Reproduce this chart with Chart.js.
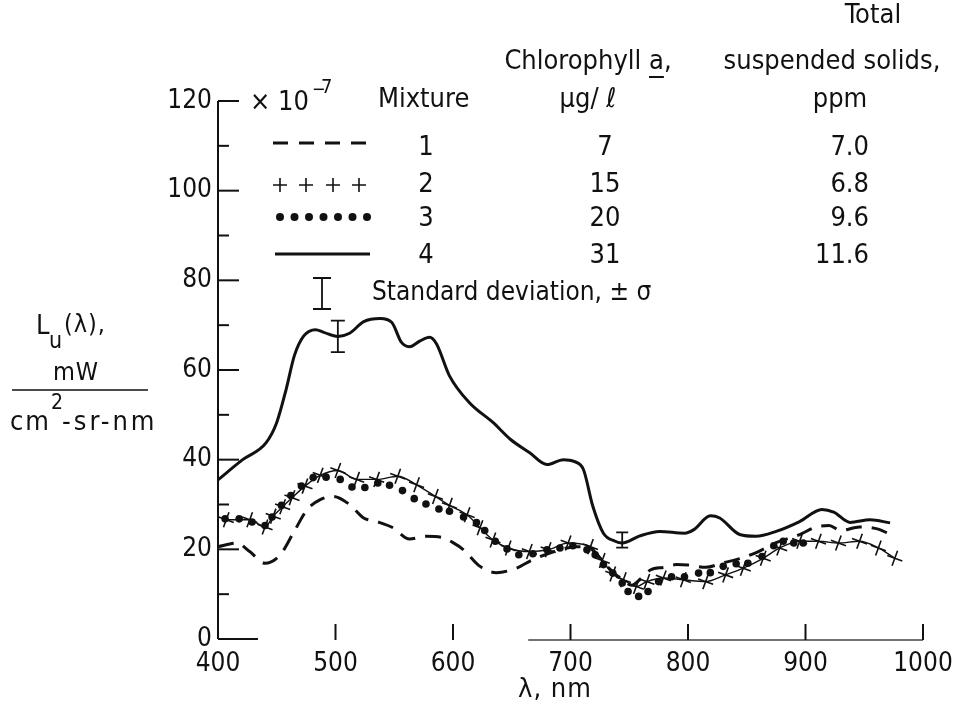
<!DOCTYPE html>
<html>
<head>
<meta charset="utf-8">
<script src="https://cdn.jsdelivr.net/npm/chart.js@4.4.1/dist/chart.umd.min.js"></script>
<style>
html,body{margin:0;padding:0;background:#fff;}
canvas{display:block;}
</style>
</head>
<body>
<canvas id="c" width="956" height="714"></canvas>
<script>
// ---- data ----
const xTicks = [400, 500, 600, 700, 800, 900, 1000];
const yTicks = [0, 20, 40, 60, 80, 100, 120];

// Mixture 1 (dashed)
const wl1 = [400, 416, 427, 440, 453, 464, 476, 487, 498, 512, 524, 535, 549, 563, 577, 590, 600, 609, 623, 637, 654, 668, 691, 705, 714, 722, 732, 745, 752, 760, 768, 780, 790, 800, 815, 830, 845, 860, 875, 895, 909, 920, 930, 946, 962, 970];
const lu1 = [20.6, 21.4, 19.5, 16.9, 18.8, 23.6, 28.9, 31.1, 31.8, 30.0, 27.0, 26.2, 24.8, 22.3, 22.9, 22.7, 21.5, 19.9, 16.2, 14.8, 15.8, 17.7, 19.9, 20.6, 20.6, 19.0, 16.0, 13.0, 12.0, 13.5, 15.4, 16.0, 16.6, 16.5, 16.0, 17.0, 18.0, 19.5, 21.5, 23.3, 25.0, 25.3, 24.2, 25.0, 24.5, 23.6];

// Mixture 2 (plus)
const wl2 = [407, 427, 440, 447, 455, 463, 474, 487, 502, 518, 535, 553, 569, 585, 597, 612, 623, 634, 647, 665, 681, 698, 717, 727, 736, 745, 756, 765, 779, 796, 815, 832, 847, 864, 878, 895, 911, 928, 946, 962, 976];
const lu2 = [26.6, 26.6, 25.0, 27.4, 29.5, 31.5, 34.1, 36.5, 37.6, 35.6, 35.6, 36.3, 34.4, 31.8, 29.8, 27.7, 24.8, 22.1, 20.3, 19.5, 19.9, 21.4, 20.6, 17.5, 14.5, 13.2, 11.7, 12.8, 13.6, 13.2, 12.8, 14.3, 15.8, 18.0, 20.3, 21.8, 21.8, 21.4, 21.8, 20.3, 18.0];

// Mixture 3 (dots)
const wl3 = [406, 418, 429, 440, 446, 454, 462, 471, 481, 492, 504, 514, 525, 536, 546, 557, 567, 577, 588, 597, 609, 620, 627, 636, 646, 656, 668, 680, 691, 702, 714, 721, 728, 736, 744, 749, 758, 766, 775, 786, 797, 809, 819, 830, 841, 851, 863, 873, 881, 890, 898];
const lu3 = [26.8, 26.8, 26.1, 25.3, 27.2, 29.8, 32.0, 34.1, 36.0, 36.1, 35.6, 33.9, 33.8, 34.8, 34.3, 33.1, 31.3, 30.1, 29.0, 28.5, 27.2, 26.0, 24.2, 21.8, 20.1, 18.8, 19.0, 19.9, 20.3, 20.8, 19.9, 18.8, 16.6, 14.7, 12.5, 10.6, 9.5, 10.6, 12.8, 13.9, 13.9, 14.7, 14.8, 16.2, 16.8, 16.9, 18.4, 20.8, 21.8, 21.4, 21.4];

// Mixture 4 (solid)
const wl4 = [400, 421, 441, 450, 458, 465, 473, 483, 490, 502, 512, 524, 538, 548, 556, 563, 572, 580, 586, 597, 614, 634, 649, 665, 680, 694, 703, 711, 719, 728, 738, 744, 759, 776, 797, 805, 819, 827, 844, 858, 875, 895, 914, 924, 938, 955, 972];
const lu4 = [35.5, 40.0, 43.8, 48.3, 55.7, 63.2, 67.6, 69.0, 68.4, 67.5, 68.2, 70.8, 71.5, 70.6, 66.2, 65.2, 66.5, 67.3, 65.8, 58.7, 52.7, 48.3, 44.5, 41.6, 38.9, 40.0, 39.6, 37.8, 29.6, 23.6, 21.8, 21.4, 23.0, 24.0, 23.6, 24.4, 27.5, 27.0, 23.3, 22.9, 24.0, 26.2, 28.9, 28.3, 26.0, 26.6, 25.9];

// standard deviation bars
const errWl = [502, 744];
const errLu = [67.5, 22.1];
const errSd = [3.5, 1.7];

// legend table
const mixtures = ['1', '2', '3', '4'];
const chlorophyll = ['7', '15', '20', '31'];
const solids = ['7.0', '6.8', '9.6', '11.6'];

const FAM = "'Liberation Sans Narrow','DejaVu Sans Condensed','Liberation Sans',sans-serif";
const INK = '#111';

function pts(xs, ys) { return xs.map((x, i) => ({x: x, y: ys[i]})); }

function txt(ctx, s, x, y, size, align) {
  ctx.font = size + 'px ' + FAM;
  ctx.textAlign = align || 'left';
  ctx.textBaseline = 'middle';
  ctx.fillText(s, x, y);
  return ctx.measureText(s).width;
}

const decor = {
  id: 'decor',
  afterDatasetsDraw(chart) {
    const ctx = chart.ctx;
    const xs = chart.scales.x, ys = chart.scales.y;
    ctx.save();
    ctx.strokeStyle = INK;
    ctx.fillStyle = INK;
    ctx.lineCap = 'butt';
    const x0 = xs.getPixelForValue(400);
    ctx.lineWidth = 2;
    ctx.beginPath();
    ctx.moveTo(x0, ys.getPixelForValue(0));
    ctx.lineTo(x0, ys.getPixelForValue(120));
    ctx.stroke();
    for (let v = 10; v <= 120; v += 10) {
      const y = ys.getPixelForValue(v);
      const len = (v % 20 === 0) ? 21 : 11;
      ctx.beginPath();
      ctx.moveTo(x0, y);
      ctx.lineTo(x0 + len, y);
      ctx.stroke();
    }
    const yb = ys.getPixelForValue(0);
    ctx.beginPath();
    ctx.moveTo(x0, yb);
    ctx.lineTo(xs.getPixelForValue(434), yb);
    ctx.stroke();
    ctx.strokeStyle = '#444';
    ctx.lineWidth = 1.6;
    ctx.beginPath();
    ctx.moveTo(xs.getPixelForValue(664), yb + 1);
    ctx.lineTo(xs.getPixelForValue(1000), yb + 1);
    ctx.stroke();
    ctx.strokeStyle = INK;
    ctx.lineWidth = 2;
    for (const t of xTicks) {
      if (t === 400) continue;
      const x = xs.getPixelForValue(t);
      ctx.beginPath();
      ctx.moveTo(x, yb + 1);
      ctx.lineTo(x, yb - 15);
      ctx.stroke();
    }
    ctx.lineWidth = 1.8;
    errWl.forEach((w, i) => {
      const x = xs.getPixelForValue(w);
      const yt = ys.getPixelForValue(errLu[i] + errSd[i]);
      const yl = ys.getPixelForValue(errLu[i] - errSd[i]);
      const cw = i === 0 ? 7 : 6;
      ctx.beginPath();
      ctx.moveTo(x, yt); ctx.lineTo(x, yl);
      ctx.moveTo(x - cw, yt); ctx.lineTo(x + cw, yt);
      ctx.moveTo(x - cw, yl); ctx.lineTo(x + cw, yl);
      ctx.stroke();
    });
    ctx.restore();
  },
  afterDraw(chart) {
    const ctx = chart.ctx;
    ctx.save();
    ctx.fillStyle = INK;
    ctx.strokeStyle = INK;
    let w = txt(ctx, '\u00d7 10', 250, 103, 27);
    txt(ctx, '\u2212', 250 + w + 3, 90, 18);
    txt(ctx, '7', 250 + w + 12, 88, 20);
    txt(ctx, 'Mixture', 378, 100, 27);
    ctx.font = '27px ' + FAM;
    const p1 = 'Chlorophyll ', p2 = 'a', p3 = ',';
    const w1 = ctx.measureText(p1).width, w2 = ctx.measureText(p2).width, w3 = ctx.measureText(p3).width;
    let sx = 588 - (w1 + w2 + w3) / 2;
    txt(ctx, p1, sx, 62, 27);
    txt(ctx, p2, sx + w1, 62, 27);
    txt(ctx, p3, sx + w1 + w2, 62, 27);
    ctx.lineWidth = 2;
    ctx.beginPath();
    ctx.moveTo(sx + w1, 77); ctx.lineTo(sx + w1 + w2, 77);
    ctx.stroke();
    txt(ctx, '\u03bcg/ \u2113', 588, 100, 27, 'center');
    txt(ctx, 'Total', 873, 16, 27, 'center');
    txt(ctx, 'suspended solids,', 832, 62, 27, 'center');
    txt(ctx, 'ppm', 840, 100, 27, 'center');
    const rowY = [148, 185, 219, 256];
    mixtures.forEach((m, i) => {
      txt(ctx, m, 426, rowY[i], 27, 'center');
      txt(ctx, chlorophyll[i], 605, rowY[i], 27, 'center');
      txt(ctx, solids[i], 869, rowY[i], 27, 'right');
    });
    ctx.lineWidth = 3;
    ctx.setLineDash([15, 11]);
    ctx.beginPath(); ctx.moveTo(273, 143); ctx.lineTo(372, 143); ctx.stroke();
    ctx.setLineDash([]);
    ctx.lineWidth = 1.6;
    [280, 306, 333, 359].forEach(px => {
      ctx.beginPath();
      ctx.moveTo(px - 7, 185); ctx.lineTo(px + 7, 185);
      ctx.moveTo(px, 178); ctx.lineTo(px, 192);
      ctx.stroke();
    });
    for (let k = 0; k < 7; k++) {
      ctx.beginPath();
      ctx.arc(280 + k * 14.5, 217, 4, 0, Math.PI * 2);
      ctx.fill();
    }
    ctx.lineWidth = 3;
    ctx.beginPath(); ctx.moveTo(275, 254); ctx.lineTo(370, 254); ctx.stroke();
    ctx.lineWidth = 1.8;
    ctx.beginPath();
    ctx.moveTo(322, 278); ctx.lineTo(322, 309);
    ctx.moveTo(313, 278); ctx.lineTo(331, 278);
    ctx.moveTo(313, 309); ctx.lineTo(331, 309);
    ctx.stroke();
    txt(ctx, 'Standard deviation, \u00b1 \u03c3', 372, 293, 26);
    // y title
    ctx.letterSpacing = '1px';
    txt(ctx, 'L', 36, 327, 27);
    txt(ctx, 'u', 49, 342, 23);
    txt(ctx, '(\u03bb),', 64, 325, 25);
    txt(ctx, 'mW', 76, 373, 25, 'center');
    ctx.lineWidth = 1.5;
    ctx.beginPath(); ctx.moveTo(12, 390); ctx.lineTo(148, 390); ctx.stroke();
    ctx.letterSpacing = '2px';
    let cw = txt(ctx, 'cm', 10, 423, 27);
    ctx.letterSpacing = '0px';
    txt(ctx, '2', 10 + cw, 404, 21);
    ctx.letterSpacing = '3px';
    txt(ctx, '-sr-nm', 10 + cw + 11, 423, 27);
    ctx.letterSpacing = '1px';
    txt(ctx, '\u03bb, nm', 555, 690, 27, 'center');
    ctx.restore();
  }
};

const lineBase = { tension: 0.3, cubicInterpolationMode: 'monotone', fill: false };

new Chart(document.getElementById('c'), {
  type: 'line',
  data: {
    datasets: [
      Object.assign({ label: '1', data: pts(wl1, lu1), borderColor: INK, borderWidth: 3, borderDash: [16, 10], pointRadius: 0 }, lineBase),
      Object.assign({ label: '2', data: pts(wl2, lu2), borderColor: INK, borderWidth: 1.4, pointStyle: 'cross', pointRadius: 8, pointRotation: 20, pointBorderWidth: 1.6, pointBorderColor: INK }, lineBase),
      { label: '3', data: pts(wl3, lu3), showLine: false, pointStyle: 'circle', pointRadius: 3.8, pointBackgroundColor: INK, pointBorderColor: INK, pointBorderWidth: 0 },
      Object.assign({ label: '4', data: pts(wl4, lu4), borderColor: INK, borderWidth: 3, pointRadius: 0 }, lineBase)
    ]
  },
  options: {
    responsive: false,
    animation: false,
    devicePixelRatio: 1,
    layout: { padding: { top: 101, right: 33, left: 0, bottom: 0 } },
    plugins: { legend: { display: false }, tooltip: { enabled: false } },
    scales: {
      x: {
        type: 'linear', min: 400, max: 1000,
        afterBuildTicks: s => { s.ticks = xTicks.map(v => ({value: v})); },
        ticks: { font: { family: FAM, size: 26 }, color: INK, padding: 10, maxRotation: 0, callback: v => String(v) },
        grid: { display: false, drawTicks: false },
        border: { display: false },
        afterFit: s => { s.height = 75; s.paddingLeft = 0; s.paddingRight = 0; }
      },
      y: {
        min: 0, max: 120,
        afterBuildTicks: s => { s.ticks = yTicks.map(v => ({value: v})); },
        ticks: { font: { family: FAM, size: 26 }, color: INK, padding: 6, callback: v => String(v) },
        grid: { display: false, drawTicks: false },
        border: { display: false },
        afterFit: s => { s.width = 218; s.paddingTop = 0; s.paddingBottom = 0; }
      }
    }
  },
  plugins: [decor]
});
</script>
</body>
</html>
